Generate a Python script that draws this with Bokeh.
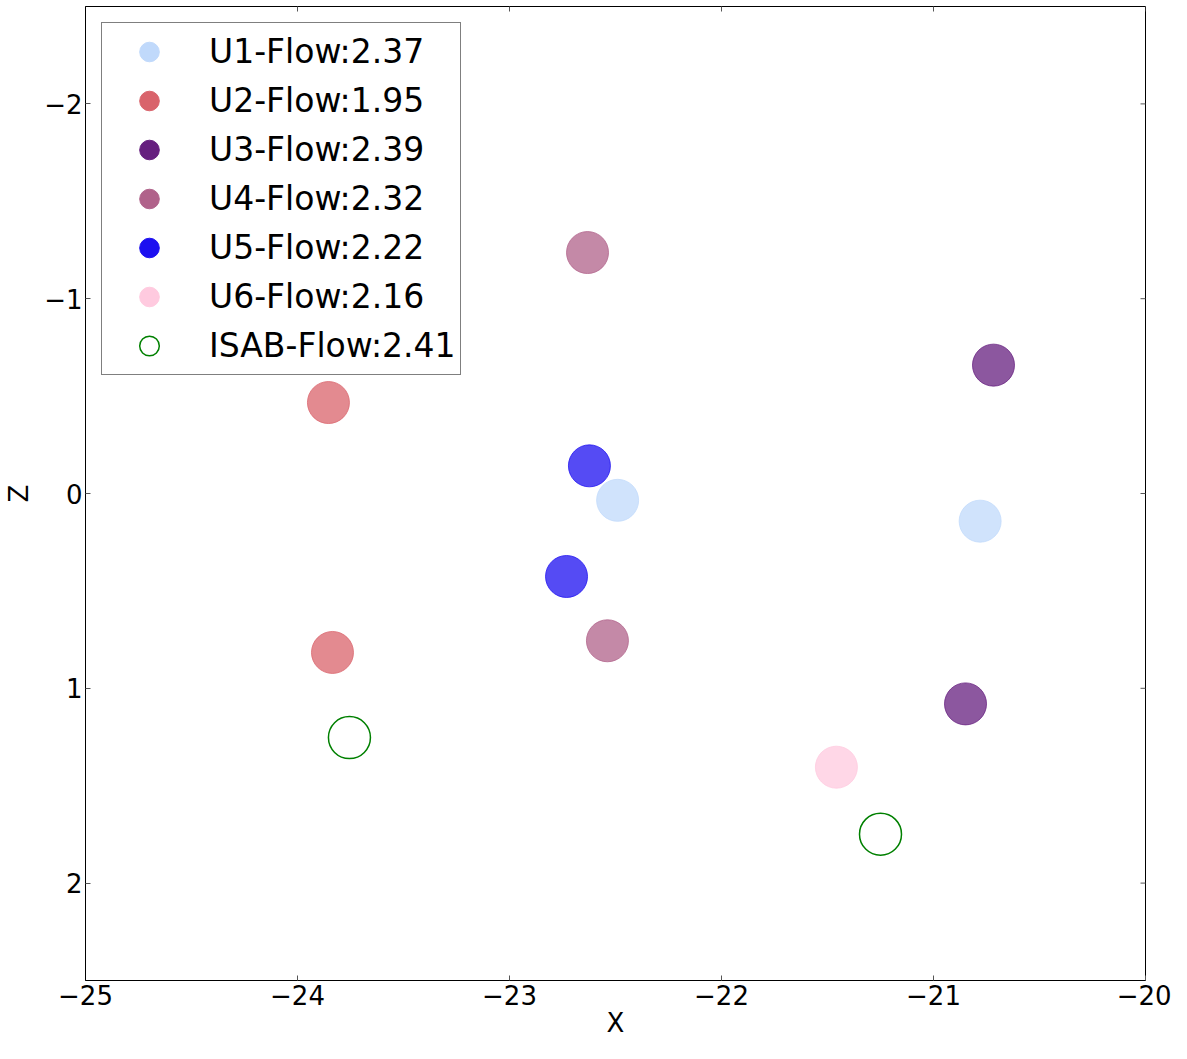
import math
from bokeh.plotting import figure
from bokeh.models import Range1d, FixedTicker, ColumnDataSource, Legend, LegendItem
from bokeh.embed import file_html
from bokeh.resources import INLINE

# ---- data ----
series_names = ["U1-Flow:2.37", "U2-Flow:1.95", "U3-Flow:2.39", "U4-Flow:2.32",
                "U5-Flow:2.22", "U6-Flow:2.16", "ISAB-Flow:2.41"]
series_colors = ["#c0d9fb", "#d9636b", "#661f7f", "#b0628a", "#1c0ff0", "#ffcadf", "#008000"]
u1_x = [-22.49, -20.78]
u1_z = [0.035, 0.142]
u2_x = [-23.854, -23.835]
u2_z = [-0.467, 0.816]
u3_x = [-20.717, -20.849]
u3_z = [-0.659, 1.080]
u4_x = [-22.632, -22.538]
u4_z = [-1.237, 0.756]
u5_x = [-22.623, -22.731]
u5_z = [-0.142, 0.426]
u6_x = [-21.458]
u6_z = [1.405]
isab_x = [-23.755, -21.25]
isab_z = [1.253, 1.749]
x_ticks = [-25, -24, -23, -22, -21, -20]
z_ticks = [-2, -1, 0, 1, 2]

xs = [u1_x, u2_x, u3_x, u4_x, u5_x, u6_x, isab_x]
zs = [u1_z, u2_z, u3_z, u4_z, u5_z, u6_z, isab_z]

X_MIN, X_MAX = -25, -20
Z_BOTTOM, Z_TOP = 2.5, -2.5

FONT = "DejaVu Sans"

p = figure(width=1171, height=1043, output_backend="svg", toolbar_location=None,
           x_range=Range1d(X_MIN, X_MAX), y_range=Range1d(Z_BOTTOM, Z_TOP),
           min_border_left=85, min_border_right=26, min_border_top=6, min_border_bottom=63)
p.grid.visible = False
p.outline_line_color = "black"
p.outline_line_width = 1
p.background_fill_color = "white"
p.border_fill_color = "white"

for ax, ticks in ((p.xaxis[0], x_ticks), (p.yaxis[0], z_ticks)):
    ax.ticker = FixedTicker(ticks=ticks)
    ax.minor_tick_line_color = None
    ax.major_tick_in = 5
    ax.major_tick_out = 0
    ax.major_tick_line_color = "#555555"
    ax.axis_line_color = "black"
    ax.major_label_text_font = FONT
    ax.major_label_text_font_size = "26px"
    ax.major_label_text_color = "black"
    ax.axis_label_text_font = FONT
    ax.axis_label_text_font_size = "26px"
    ax.axis_label_text_font_style = "normal"
    ax.axis_label_text_color = "black"

p.xaxis.axis_label = "X"
p.yaxis.axis_label = "Z"
p.xaxis.major_label_standoff = 4
p.xaxis.axis_label_standoff = 0
p.yaxis.major_label_standoff = 3
p.yaxis.axis_label_standoff = 7

# mirrored inward ticks on top and right edges (clipped dash markers at the frame edge)
p.scatter(x=x_ticks, y=[Z_TOP] * len(x_ticks), marker="dash", size=10, angle=math.pi / 2,
          line_color="#555555", line_width=1)
p.scatter(x=[X_MAX] * len(z_ticks), y=z_ticks, marker="dash", size=10,
          line_color="#555555", line_width=1)

items = []
for name, col, x, z in zip(series_names, series_colors, xs, zs):
    src = ColumnDataSource(dict(x=x, z=z))
    leg_src = ColumnDataSource(dict(x=[float("nan")], z=[float("nan")]))
    if name.startswith("ISAB"):
        p.scatter("x", "z", source=src, size=42, fill_color=None, line_color=col, line_width=1.5)
        leg = p.scatter("x", "z", source=leg_src, size=20, fill_color=None, line_color=col, line_width=1.5)
    else:
        p.scatter("x", "z", source=src, size=42, fill_color=col, line_color=col,
                  fill_alpha=0.75, line_alpha=0.75, line_width=1)
        leg = p.scatter("x", "z", source=leg_src, size=20, fill_color=col, line_color=col)
    items.append(LegendItem(label=name, renderers=[leg]))

legend = Legend(items=items, location="top_left")
legend.margin = 16
legend.padding = 4
legend.spacing = 0
legend.glyph_width = 86
legend.glyph_height = 49
legend.label_height = 49
legend.label_standoff = 17
legend.label_text_font = FONT
legend.label_text_font_size = "33px"
legend.label_text_color = "black"
legend.border_line_color = "black"
legend.border_line_width = 1
legend.background_fill_color = "white"
legend.background_fill_alpha = 1
p.add_layout(legend)

open("out.html", "w").write(file_html(p, INLINE))
